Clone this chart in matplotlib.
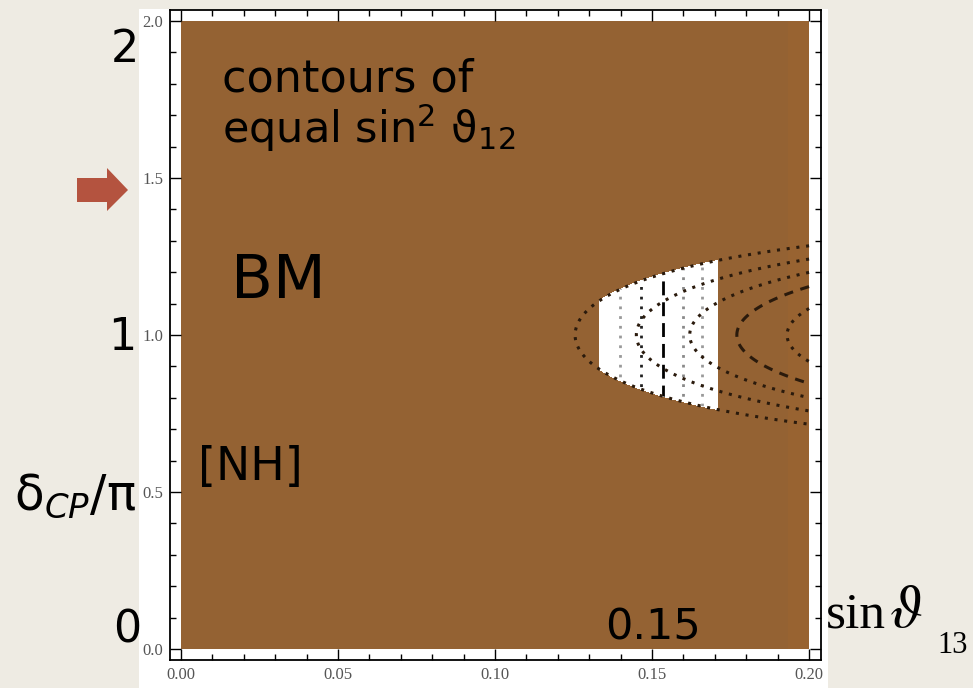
import numpy as np
import matplotlib
matplotlib.use("Agg")
import matplotlib.pyplot as plt
from matplotlib.patches import Rectangle, Polygon
from matplotlib.ticker import MultipleLocator

# sin(theta13) ranges: 3sigma lo, 2sigma lo, 1sigma lo, best fit, 1sigma hi, 2sigma hi, 3sigma hi
s13_bounds = [0.1334, 0.1398, 0.1465, 0.1535, 0.160, 0.166, 0.171]
s13_colors = ["none", "#9a9a9a", "#202020", "#000000", "#8a8a8a", "#9a9a9a", "none"]
s13_styles = ["-", (0, (1, 2.5)), (0, (1, 2.5)), (0, (5, 2.5)), (0, (1, 2.5)), (0, (1, 2.5)), "-"]

# contours of equal sin^2 theta12, labelled by s13*|cos delta| at the vertex (delta = pi)
s12_levels = [0.1255, 0.145, 0.162, 0.177, 0.193]
s12_styles = [(0, (1, 2.2)), (0, (1, 2.2)), (0, (1, 2.2)), (0, (3, 2.5)), (0, (1, 2.2))]

x_ticks = [0.0, 0.05, 0.10, 0.15, 0.20]
x_labels = ["0.00", "0.05", "0.10", "0.15", "0.20"]
y_ticks = [0.0, 0.5, 1.0, 1.5, 2.0]
y_labels = ["0.0", "0.5", "1.0", "1.5", "2.0"]

W, H = 973, 688
BROWN = "#946233"
SLIDE = "#EEEBE3"

fig = plt.figure(figsize=(W / 100, H / 100), dpi=100, facecolor=SLIDE)

def fx(px):
    return px / W

def fy(py):
    return 1 - py / H

# white panel behind the plot
fig.patches.append(Rectangle((fx(139), 0), fx(828) - fx(139), fy(9), transform=fig.transFigure,
                             facecolor="white", edgecolor="none", zorder=-5))

ax = fig.add_axes([fx(170), fy(660), fx(821) - fx(170), fy(10) - fy(660)])
ax.set_xlim(-0.0035, 0.2038)
ax.set_ylim(-0.035, 2.035)
ax.set_facecolor("white")

ax.add_patch(Rectangle((0, 0), 0.2, 2.0, facecolor=BROWN, edgecolor="none", zorder=1))
ax.add_patch(Rectangle((0.1933, 0), 0.2 - 0.1933, 2.0, facecolor="#986331", edgecolor="none", zorder=1))

s = np.linspace(0.0, 0.2, 1001)
d = np.linspace(0.0, 2.0, 1001)
S, D = np.meshgrid(s, d)
F = S * (-np.cos(np.pi * D))

# allowed region: theta13 in 3sigma and inside the outer sin^2 theta12 contour
lo, hi = s13_bounds[0], s13_bounds[-1]
G = np.minimum(np.minimum(S - lo, hi - S), F - s12_levels[0])
region = ax.contourf(S, D, G, levels=[0, 1], colors=["white"], zorder=2)
clip = region.get_paths()[0]

for xv, c, ls in zip(s13_bounds[1:-1], s13_colors[1:-1], s13_styles[1:-1]):
    ln, = ax.plot([xv, xv], [0, 2], color=c, ls=ls, lw=2.0, zorder=3)
    ln.set_clip_path(clip, ax.transData)

ax.contour(S, D, F, levels=s12_levels, colors="#2a1a0c", linewidths=2.2,
           linestyles=s12_styles, zorder=4)

ax.set_xticks(x_ticks)
ax.set_xticklabels(x_labels)
ax.set_yticks(y_ticks)
ax.set_yticklabels(y_labels)
ax.xaxis.set_minor_locator(MultipleLocator(0.01))
ax.yaxis.set_minor_locator(MultipleLocator(0.1))
ax.tick_params(which="both", direction="in", top=True, right=True, width=1.0, color="black")
ax.tick_params(which="major", length=8, pad=5, labelsize=12, labelcolor="#555555")
ax.tick_params(which="minor", length=4)
for lab in ax.get_xticklabels() + ax.get_yticklabels():
    lab.set_fontfamily("Liberation Serif")
for sp in ax.spines.values():
    sp.set_linewidth(1.3)

# slide annotations
big = dict(family="DejaVu Sans", color="black", transform=fig.transFigure)
fig.text(fx(125), fy(50), "2", fontsize=32, ha="center", va="center", **big)
fig.text(fx(122), fy(337), "1", fontsize=32, ha="center", va="center", **big)
fig.text(fx(127), fy(630), "0", fontsize=32, ha="center", va="center", **big)
fig.text(fx(605), fy(640), "0.15", fontsize=31, ha="left", va="baseline", **big)
fig.text(fx(231), fy(298), "BM", fontsize=44, ha="left", va="baseline", **big)
fig.text(fx(198), fy(480), "[NH]", fontsize=33, ha="left", va="baseline", **big)
fig.text(fx(222), fy(92), "contours of", fontsize=32, ha="left", va="baseline", **big)
fig.text(fx(222), fy(143), r"equal sin$^{2}$ $\mathrm{\vartheta}_{12}$", fontsize=31,
         ha="left", va="baseline", math_fontfamily="dejavusans", **big)
fig.text(fx(14), fy(510), r"$\mathrm{\delta}_{CP}$/$\mathrm{\pi}$", fontsize=35,
         ha="left", va="baseline", math_fontfamily="dejavusans", **big)
fig.text(fx(826), fy(627), "sin", fontsize=37, ha="left", va="baseline",
         family="Liberation Serif", color="black", transform=fig.transFigure)
fig.text(fx(889), fy(627), r"$\vartheta$", fontsize=43, ha="left", va="baseline",
         math_fontfamily="stix", color="black", transform=fig.transFigure)
fig.text(fx(937), fy(653), "13", fontsize=22, ha="left", va="baseline",
         family="Liberation Serif", color="black", transform=fig.transFigure)

# arrow marking delta = 1.5 pi
arrow_px = [(77, 178), (107, 178), (107, 168), (128, 190), (107, 211), (107, 202), (77, 202)]
fig.patches.append(Polygon([(fx(a), fy(b)) for a, b in arrow_px], closed=True,
                           transform=fig.transFigure, facecolor="#B4533F", edgecolor="none"))

fig.savefig("out.png", dpi=100, facecolor=SLIDE)
